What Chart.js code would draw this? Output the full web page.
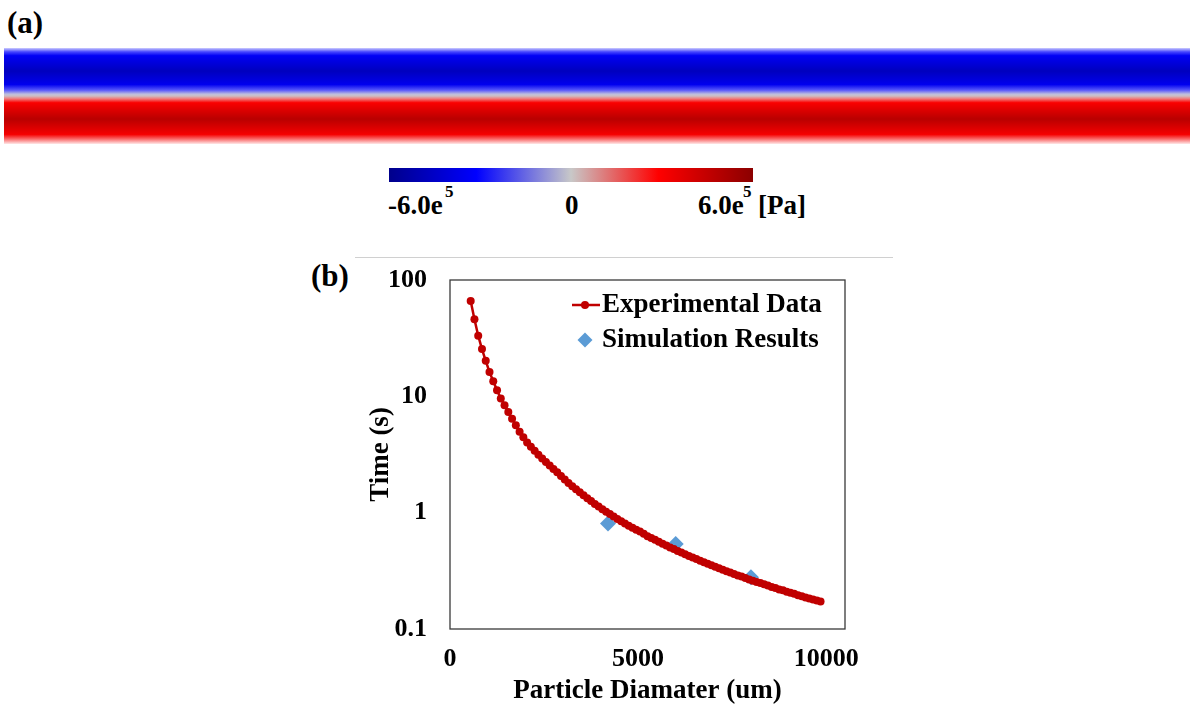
<!DOCTYPE html>
<html>
<head>
<meta charset="utf-8">
<script src="https://cdn.jsdelivr.net/npm/chart.js@4"></script>
<style>
    body { margin: 0; background: #fff; }
    #page { position: relative; width: 1190px; height: 711px; overflow: hidden; font-family: 'Liberation Serif', 'Times New Roman', serif; font-weight: bold; color: #000; }
    .lbl { position: absolute; line-height: 1; white-space: nowrap; }
    #band {
        position: absolute; left: 4px; top: 48px; width: 1186px; height: 96px;
        background: linear-gradient(to bottom,
            rgb(205,205,255) 0%, rgb(70,70,255) 4%, rgb(0,0,245) 8%, rgb(0,0,190) 24%,
            rgb(0,0,238) 38%, rgb(90,90,250) 44%, rgb(190,190,222) 48%, rgb(205,190,195) 50%,
            rgb(240,120,120) 53%, rgb(250,0,0) 57%, rgb(185,0,0) 74%, rgb(245,0,0) 90%,
            rgb(250,110,110) 95%, rgb(255,232,232) 100%);
    }
    #cbar {
        position: absolute; left: 389px; top: 168px; width: 364px; height: 14px;
        background: linear-gradient(to right, #00008b 0%, #0000ff 24%, #c8c8c8 50%, #ff0000 74%, #8b0000 100%);
    }
    #divider { position: absolute; left: 355px; top: 257px; width: 538px; height: 1px; background: #d0d0d0; }
    #chartBox { position: absolute; left: 330px; top: 262px; width: 560px; height: 449px; }
</style>
</head>
<body>
<div id="page">
    <div class="lbl" style="left:7px; top:7px; font-size:31px;">(a)</div>
    <div id="band"></div>
    <div id="cbar"></div>
    <div class="lbl" style="left:388px; top:192px; font-size:27px;">-6.0e</div>
    <div class="lbl" style="left:445px; top:183px; font-size:17px;">5</div>
    <div class="lbl" style="left:565px; top:192px; font-size:27px;">0</div>
    <div class="lbl" style="left:698px; top:192px; font-size:27px;">6.0e</div>
    <div class="lbl" style="left:743px; top:183px; font-size:17px;">5</div>
    <div class="lbl" style="left:758px; top:192px; font-size:27px;">[Pa]</div>
    <div id="divider"></div>
    <div class="lbl" style="left:311px; top:260px; font-size:31px;">(b)</div>
    <div id="chartBox"><canvas id="timeChart" width="560" height="449"></canvas></div>
</div>
<script>
const FONT_FAMILY = "'Liberation Serif', 'Times New Roman', serif";

// experimental settling time vs particle diameter
const EXP_DIAMETER = [
    550, 650, 750, 850, 950, 1050, 1150, 1250, 1350, 1450,
    1550, 1650, 1750, 1850, 1950, 2050, 2150, 2250, 2350, 2450,
    2550, 2650, 2750, 2850, 2950, 3050, 3150, 3250, 3350, 3450,
    3550, 3650, 3750, 3850, 3950, 4050, 4150, 4250, 4350, 4450,
    4550, 4650, 4750, 4850, 4950, 5050, 5150, 5250, 5350, 5450,
    5550, 5650, 5750, 5850, 5950, 6050, 6150, 6250, 6350, 6450,
    6550, 6650, 6750, 6850, 6950, 7050, 7150, 7250, 7350, 7450,
    7550, 7650, 7750, 7850, 7950, 8050, 8150, 8250, 8350, 8450,
    8550, 8650, 8750, 8850, 8950, 9050, 9150, 9250, 9350, 9450,
    9550, 9650, 9750, 9850
];
const EXP_TIME = [
    65.9, 45.9, 33.2, 25.5, 20.2, 16.2, 13.5, 11.3, 9.6, 8.37,
    7.33, 6.42, 5.63, 4.96, 4.44, 4.02, 3.68, 3.40, 3.15, 2.92,
    2.72, 2.54, 2.37, 2.22, 2.07, 1.93, 1.80, 1.69, 1.59, 1.50,
    1.41, 1.33, 1.26, 1.19, 1.13, 1.07, 1.02, 0.972, 0.927, 0.884,
    0.845, 0.808, 0.773, 0.741, 0.712, 0.690, 0.658, 0.626, 0.605, 0.584,
    0.561, 0.541, 0.521, 0.503, 0.486, 0.469, 0.454, 0.439, 0.425, 0.411,
    0.399, 0.386, 0.375, 0.363, 0.353, 0.342, 0.333, 0.323, 0.314, 0.306,
    0.297, 0.289, 0.282, 0.274, 0.267, 0.260, 0.254, 0.248, 0.242, 0.236,
    0.230, 0.225, 0.219, 0.215, 0.209, 0.205, 0.201, 0.195, 0.191, 0.187,
    0.183, 0.179, 0.176, 0.172
];

const SIM_DIAMETER = [4200, 6000, 8000];
const SIM_TIME = [0.809, 0.537, 0.278];

const X_TICKS = [0, 5000, 10000];
const X_TICK_LABELS = ['0', '5000', '10000'];
const Y_TICKS = [0.1, 1, 10, 100];
const Y_TICK_LABELS = ['0.1', '1', '10', '100'];

const SERIES_NAMES = ['Experimental Data', 'Simulation Results'];
const EXP_COLOR = '#C00000';
const SIM_COLOR = '#5B9BD5';

// plot frame on all four sides
const framePlugin = {
    id: 'frame',
    beforeDatasetsDraw(chart) {
        const { ctx, chartArea: a } = chart;
        ctx.save();
        ctx.strokeStyle = '#3a3a3a';
        ctx.lineWidth = 1.3;
        ctx.strokeRect(a.left, a.top, a.right - a.left, a.bottom - a.top);
        ctx.restore();
    }
};

// legend inside the plot, top right
const insideLegend = {
    id: 'insideLegend',
    afterDraw(chart) {
        const { ctx, chartArea: a } = chart;
        const markX = a.right - 260;
        const textX = a.right - 243;
        const rows = [a.top + 25, a.top + 60];
        ctx.save();
        ctx.font = `bold 27px ${FONT_FAMILY}`;
        ctx.textBaseline = 'middle';

        ctx.strokeStyle = EXP_COLOR;
        ctx.lineWidth = 2.5;
        ctx.beginPath();
        ctx.moveTo(markX - 13, rows[0]);
        ctx.lineTo(markX + 15, rows[0]);
        ctx.stroke();
        ctx.fillStyle = EXP_COLOR;
        ctx.beginPath();
        ctx.arc(markX, rows[0], 4, 0, Math.PI * 2);
        ctx.fill();

        ctx.fillStyle = SIM_COLOR;
        ctx.beginPath();
        ctx.moveTo(markX, rows[1] - 7.5);
        ctx.lineTo(markX + 7.5, rows[1]);
        ctx.lineTo(markX, rows[1] + 7.5);
        ctx.lineTo(markX - 7.5, rows[1]);
        ctx.closePath();
        ctx.fill();

        ctx.fillStyle = '#000';
        ctx.fillText(chart.data.datasets[0].label, textX, rows[0]);
        ctx.fillText(chart.data.datasets[1].label, textX, rows[1]);
        ctx.restore();
    }
};

const tickFont = { family: FONT_FAMILY, size: 26, weight: 'bold' };
const titleFont = { family: FONT_FAMILY, size: 27, weight: 'bold' };

new Chart(document.getElementById('timeChart'), {
    type: 'scatter',
    data: {
        datasets: [
            {
                label: SERIES_NAMES[0],
                data: EXP_DIAMETER.map((d, i) => ({ x: d, y: EXP_TIME[i] })),
                showLine: true,
                borderColor: EXP_COLOR,
                borderWidth: 2.5,
                backgroundColor: EXP_COLOR,
                pointBackgroundColor: EXP_COLOR,
                pointBorderWidth: 0,
                pointRadius: 4,
                tension: 0
            },
            {
                label: SERIES_NAMES[1],
                data: SIM_DIAMETER.map((d, i) => ({ x: d, y: SIM_TIME[i] })),
                showLine: false,
                pointStyle: 'rectRot',
                pointRadius: 8,
                pointBackgroundColor: SIM_COLOR,
                backgroundColor: SIM_COLOR,
                pointBorderWidth: 0
            }
        ]
    },
    options: {
        responsive: false,
        animation: false,
        devicePixelRatio: 1,
        layout: { padding: { left: 0, top: 18, right: 45, bottom: 0 } },
        plugins: {
            legend: { display: false },
            tooltip: { enabled: false }
        },
        scales: {
            x: {
                type: 'linear',
                min: 0,
                max: 10500,
                afterBuildTicks: s => { s.ticks = X_TICKS.map(v => ({ value: v })); },
                afterFit: s => { s.height = 82; s.paddingLeft = 0; s.paddingRight = 0; },
                grid: { display: false, drawTicks: false },
                border: { display: false },
                ticks: {
                    color: '#000',
                    font: tickFont,
                    padding: 15,
                    maxRotation: 0,
                    callback: (v, i) => X_TICK_LABELS[i]
                },
                title: {
                    display: true,
                    text: 'Particle Diamater (um)',
                    color: '#000',
                    font: titleFont,
                    padding: { top: 0, bottom: 4 }
                }
            },
            y: {
                type: 'logarithmic',
                min: 0.1,
                max: 100,
                afterBuildTicks: s => { s.ticks = Y_TICKS.map(v => ({ value: v })); },
                afterFit: s => { s.width = 120; s.paddingTop = 0; s.paddingBottom = 0; },
                grid: { display: false, drawTicks: false },
                border: { display: false },
                ticks: {
                    color: '#000',
                    font: tickFont,
                    padding: 23,
                    callback: (v, i) => Y_TICK_LABELS[i]
                },
                title: {
                    display: true,
                    text: 'Time (s)',
                    color: '#000',
                    font: titleFont,
                    padding: { top: 35, bottom: 0 }
                }
            }
        }
    },
    plugins: [framePlugin, insideLegend]
});
</script>
</body>
</html>
